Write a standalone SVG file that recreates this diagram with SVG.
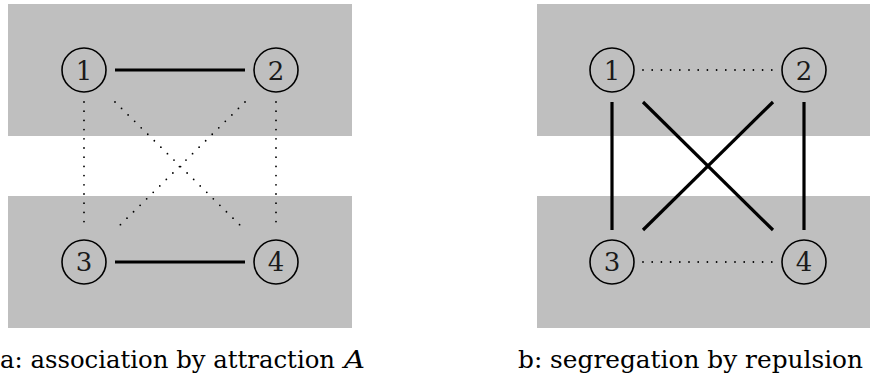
<svg xmlns="http://www.w3.org/2000/svg" width="870" height="381" viewBox="0 0 870 381">
<style>
.bg{fill:#bfbfbf}
.node circle{fill:none;stroke:#000;stroke-width:1.6}
.node text{font-family:'DejaVu Serif','Liberation Serif',serif;font-size:26px;text-anchor:middle;fill:#1a1a1a}
.solid{stroke:#000;stroke-width:3.2;fill:none}
.dot{stroke:#000;stroke-width:1.8;stroke-linecap:round;stroke-dasharray:0 9.2;fill:none}
.cap{font-family:'DejaVu Serif','Liberation Serif',serif;font-size:25px;fill:#000}
</style>
<rect class="bg" x="8" y="4" width="344" height="132"/>
<rect class="bg" x="8" y="196" width="344" height="132"/>
<rect class="bg" x="537" y="4" width="333" height="132"/>
<rect class="bg" x="537" y="196" width="333" height="132"/>
<g id="connectors">
<line class="solid" x1="115" y1="70" x2="245" y2="70"/>
<line class="solid" x1="115" y1="262" x2="245" y2="262"/>
<line class="dot" x1="84" y1="102" x2="84" y2="230"/>
<line class="dot" x1="276" y1="102" x2="276" y2="230"/>
<line class="dot" x1="115" y1="102" x2="245" y2="230"/>
<line class="dot" x1="245" y1="102" x2="115" y2="230"/>
<line class="dot" x1="643" y1="70" x2="773" y2="70"/>
<line class="dot" x1="643" y1="262" x2="773" y2="262"/>
<line class="solid" x1="612" y1="102" x2="612" y2="230"/>
<line class="solid" x1="804" y1="102" x2="804" y2="230"/>
<line class="solid" x1="643" y1="102" x2="773" y2="230"/>
<line class="solid" x1="773" y1="102" x2="643" y2="230"/>
</g>
<g id="a1" class="node"><circle cx="84" cy="70" r="22"/><text x="84" y="80">1</text></g>
<g id="a2" class="node"><circle cx="276" cy="70" r="22"/><text x="276" y="80">2</text></g>
<g id="a3" class="node"><circle cx="84" cy="262" r="22"/><text x="84" y="271">3</text></g>
<g id="a4" class="node"><circle cx="276" cy="262" r="22"/><text x="276" y="271">4</text></g>
<g id="b1" class="node"><circle cx="612" cy="70" r="22"/><text x="612" y="80">1</text></g>
<g id="b2" class="node"><circle cx="804" cy="70" r="22"/><text x="804" y="80">2</text></g>
<g id="b3" class="node"><circle cx="612" cy="262" r="22"/><text x="612" y="271">3</text></g>
<g id="b4" class="node"><circle cx="804" cy="262" r="22"/><text x="804" y="271">4</text></g>
<text class="cap" x="0" y="368" textLength="335" lengthAdjust="spacingAndGlyphs">a: association by attraction</text>
<text class="cap" x="344" y="368" font-style="italic" textLength="21" lengthAdjust="spacingAndGlyphs">A</text>
<text class="cap" x="518" y="368" textLength="345" lengthAdjust="spacingAndGlyphs">b: segregation by repulsion</text>
</svg>
